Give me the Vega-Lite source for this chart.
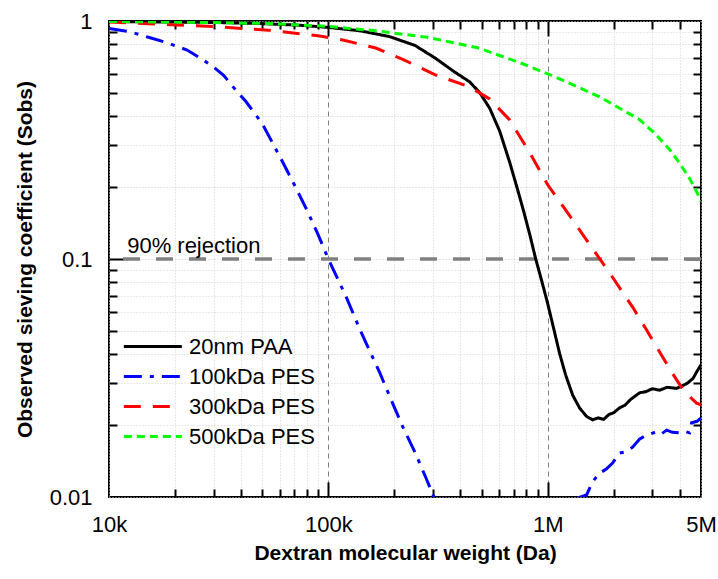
{
  "$schema": "https://vega.github.io/schema/vega-lite/v6.json",
  "width": 592,
  "height": 476,
  "autosize": "none",
  "padding": {"left": 109, "top": 21, "right": 17, "bottom": 82},
  "config": {
    "font": "Liberation Sans",
    "view": {"stroke": "black", "strokeWidth": 2},
    "axis": {"ticks": true, "tickColor": "black", "tickOpacity": 1, "tickWidth": 2}
  },
  "resolve": {"axis": {"x": "independent", "y": "independent"}},
  "layer": [
    {
      "data": {"values": [{"y": 0.1}]},
      "mark": {"type": "rule", "color": "#808080", "strokeWidth": 3.5, "strokeDash": [17, 16]},
      "encoding": {"y": {"field": "y", "type": "quantitative", "scale": {"type": "log", "domain": [0.01, 1]}, "axis": null}}
    },
    {
      "data": {"values": [
        {"s": "20nm PAA", "seg": "a", "x": 10000, "y": 0.995},
        {"s": "20nm PAA", "seg": "a", "x": 20000, "y": 0.99},
        {"s": "20nm PAA", "seg": "a", "x": 32000, "y": 0.985},
        {"s": "20nm PAA", "seg": "a", "x": 50000, "y": 0.975},
        {"s": "20nm PAA", "seg": "a", "x": 74000, "y": 0.96},
        {"s": "20nm PAA", "seg": "a", "x": 100000, "y": 0.94},
        {"s": "20nm PAA", "seg": "a", "x": 139000, "y": 0.91},
        {"s": "20nm PAA", "seg": "a", "x": 190000, "y": 0.86},
        {"s": "20nm PAA", "seg": "a", "x": 248000, "y": 0.79},
        {"s": "20nm PAA", "seg": "a", "x": 306000, "y": 0.70},
        {"s": "20nm PAA", "seg": "a", "x": 377000, "y": 0.61},
        {"s": "20nm PAA", "seg": "a", "x": 441000, "y": 0.555},
        {"s": "20nm PAA", "seg": "a", "x": 490000, "y": 0.50},
        {"s": "20nm PAA", "seg": "a", "x": 544000, "y": 0.43},
        {"s": "20nm PAA", "seg": "a", "x": 604000, "y": 0.345},
        {"s": "20nm PAA", "seg": "a", "x": 671000, "y": 0.255},
        {"s": "20nm PAA", "seg": "a", "x": 730000, "y": 0.195},
        {"s": "20nm PAA", "seg": "a", "x": 778000, "y": 0.158},
        {"s": "20nm PAA", "seg": "a", "x": 828000, "y": 0.127},
        {"s": "20nm PAA", "seg": "a", "x": 882000, "y": 0.10},
        {"s": "20nm PAA", "seg": "a", "x": 939000, "y": 0.081},
        {"s": "20nm PAA", "seg": "a", "x": 1000000, "y": 0.065},
        {"s": "20nm PAA", "seg": "a", "x": 1065000, "y": 0.051},
        {"s": "20nm PAA", "seg": "a", "x": 1134000, "y": 0.040},
        {"s": "20nm PAA", "seg": "a", "x": 1208000, "y": 0.0325},
        {"s": "20nm PAA", "seg": "a", "x": 1300000, "y": 0.0268},
        {"s": "20nm PAA", "seg": "a", "x": 1400000, "y": 0.0236},
        {"s": "20nm PAA", "seg": "a", "x": 1505000, "y": 0.0218},
        {"s": "20nm PAA", "seg": "a", "x": 1603000, "y": 0.0211},
        {"s": "20nm PAA", "seg": "a", "x": 1700000, "y": 0.0215},
        {"s": "20nm PAA", "seg": "a", "x": 1800000, "y": 0.0212},
        {"s": "20nm PAA", "seg": "a", "x": 1900000, "y": 0.0222},
        {"s": "20nm PAA", "seg": "a", "x": 2000000, "y": 0.0226},
        {"s": "20nm PAA", "seg": "a", "x": 2128000, "y": 0.0237},
        {"s": "20nm PAA", "seg": "a", "x": 2250000, "y": 0.0243},
        {"s": "20nm PAA", "seg": "a", "x": 2400000, "y": 0.0258},
        {"s": "20nm PAA", "seg": "a", "x": 2625000, "y": 0.0274},
        {"s": "20nm PAA", "seg": "a", "x": 2800000, "y": 0.0277},
        {"s": "20nm PAA", "seg": "a", "x": 3000000, "y": 0.0285},
        {"s": "20nm PAA", "seg": "a", "x": 3238000, "y": 0.0281},
        {"s": "20nm PAA", "seg": "a", "x": 3500000, "y": 0.0289},
        {"s": "20nm PAA", "seg": "a", "x": 3870000, "y": 0.0286},
        {"s": "20nm PAA", "seg": "a", "x": 4100000, "y": 0.0293},
        {"s": "20nm PAA", "seg": "a", "x": 4342000, "y": 0.0301},
        {"s": "20nm PAA", "seg": "a", "x": 4600000, "y": 0.0315},
        {"s": "20nm PAA", "seg": "a", "x": 4773000, "y": 0.0335},
        {"s": "20nm PAA", "seg": "a", "x": 5000000, "y": 0.0359},

        {"s": "100kDa PES", "seg": "a", "x": 10000, "y": 0.93},
        {"s": "100kDa PES", "seg": "a", "x": 12500, "y": 0.9},
        {"s": "100kDa PES", "seg": "a", "x": 15400, "y": 0.85},
        {"s": "100kDa PES", "seg": "a", "x": 18400, "y": 0.81},
        {"s": "100kDa PES", "seg": "a", "x": 22700, "y": 0.755},
        {"s": "100kDa PES", "seg": "a", "x": 26000, "y": 0.70},
        {"s": "100kDa PES", "seg": "a", "x": 30000, "y": 0.64},
        {"s": "100kDa PES", "seg": "a", "x": 33400, "y": 0.59},
        {"s": "100kDa PES", "seg": "a", "x": 36700, "y": 0.53},
        {"s": "100kDa PES", "seg": "a", "x": 42000, "y": 0.46},
        {"s": "100kDa PES", "seg": "a", "x": 50000, "y": 0.37},
        {"s": "100kDa PES", "seg": "a", "x": 60000, "y": 0.27},
        {"s": "100kDa PES", "seg": "a", "x": 70000, "y": 0.205},
        {"s": "100kDa PES", "seg": "a", "x": 80000, "y": 0.16},
        {"s": "100kDa PES", "seg": "a", "x": 90000, "y": 0.126},
        {"s": "100kDa PES", "seg": "a", "x": 100000, "y": 0.1},
        {"s": "100kDa PES", "seg": "a", "x": 120000, "y": 0.07},
        {"s": "100kDa PES", "seg": "a", "x": 140000, "y": 0.05},
        {"s": "100kDa PES", "seg": "a", "x": 171700, "y": 0.0332},
        {"s": "100kDa PES", "seg": "a", "x": 200000, "y": 0.0238},
        {"s": "100kDa PES", "seg": "a", "x": 218500, "y": 0.0197},
        {"s": "100kDa PES", "seg": "a", "x": 250000, "y": 0.0152},
        {"s": "100kDa PES", "seg": "a", "x": 280000, "y": 0.0119},
        {"s": "100kDa PES", "seg": "a", "x": 310000, "y": 0.0095},
        {"s": "100kDa PES", "seg": "b", "x": 1370000, "y": 0.0099},
        {"s": "100kDa PES", "seg": "b", "x": 1505000, "y": 0.0102},
        {"s": "100kDa PES", "seg": "b", "x": 1603000, "y": 0.0116},
        {"s": "100kDa PES", "seg": "b", "x": 1726000, "y": 0.0126},
        {"s": "100kDa PES", "seg": "b", "x": 1850000, "y": 0.0131},
        {"s": "100kDa PES", "seg": "b", "x": 1977000, "y": 0.0139},
        {"s": "100kDa PES", "seg": "b", "x": 2128000, "y": 0.0153},
        {"s": "100kDa PES", "seg": "b", "x": 2280000, "y": 0.0155},
        {"s": "100kDa PES", "seg": "b", "x": 2439000, "y": 0.0162},
        {"s": "100kDa PES", "seg": "b", "x": 2620000, "y": 0.0175},
        {"s": "100kDa PES", "seg": "b", "x": 2825000, "y": 0.0182},
        {"s": "100kDa PES", "seg": "b", "x": 3138000, "y": 0.0188},
        {"s": "100kDa PES", "seg": "b", "x": 3300000, "y": 0.0184},
        {"s": "100kDa PES", "seg": "b", "x": 3486000, "y": 0.0191},
        {"s": "100kDa PES", "seg": "b", "x": 3700000, "y": 0.0187},
        {"s": "100kDa PES", "seg": "b", "x": 3993000, "y": 0.0186},
        {"s": "100kDa PES", "seg": "b", "x": 4200000, "y": 0.0189},
        {"s": "100kDa PES", "seg": "b", "x": 4436000, "y": 0.0186},
        {"s": "100kDa PES", "seg": "b", "x": 4530000, "y": 0.0205},
        {"s": "100kDa PES", "seg": "b", "x": 4800000, "y": 0.0208},
        {"s": "100kDa PES", "seg": "b", "x": 5000000, "y": 0.0215},

        {"s": "300kDa PES", "seg": "a", "x": 10000, "y": 0.99},
        {"s": "300kDa PES", "seg": "a", "x": 19160, "y": 0.965},
        {"s": "300kDa PES", "seg": "a", "x": 31380, "y": 0.945},
        {"s": "300kDa PES", "seg": "a", "x": 53570, "y": 0.915},
        {"s": "300kDa PES", "seg": "a", "x": 91490, "y": 0.865},
        {"s": "300kDa PES", "seg": "a", "x": 117700, "y": 0.83},
        {"s": "300kDa PES", "seg": "a", "x": 164600, "y": 0.77},
        {"s": "300kDa PES", "seg": "a", "x": 218500, "y": 0.69},
        {"s": "300kDa PES", "seg": "a", "x": 305600, "y": 0.595},
        {"s": "300kDa PES", "seg": "a", "x": 441200, "y": 0.528},
        {"s": "300kDa PES", "seg": "a", "x": 544100, "y": 0.47},
        {"s": "300kDa PES", "seg": "a", "x": 671200, "y": 0.384},
        {"s": "300kDa PES", "seg": "a", "x": 827900, "y": 0.28},
        {"s": "300kDa PES", "seg": "a", "x": 1000000, "y": 0.205},
        {"s": "300kDa PES", "seg": "a", "x": 1259000, "y": 0.152},
        {"s": "300kDa PES", "seg": "a", "x": 1505000, "y": 0.12},
        {"s": "300kDa PES", "seg": "a", "x": 1917000, "y": 0.0873},
        {"s": "300kDa PES", "seg": "a", "x": 2439000, "y": 0.0628},
        {"s": "300kDa PES", "seg": "a", "x": 2825000, "y": 0.0503},
        {"s": "300kDa PES", "seg": "a", "x": 3238000, "y": 0.0407},
        {"s": "300kDa PES", "seg": "a", "x": 3672000, "y": 0.0335},
        {"s": "300kDa PES", "seg": "a", "x": 4209000, "y": 0.0276},
        {"s": "300kDa PES", "seg": "a", "x": 4773000, "y": 0.0248},
        {"s": "300kDa PES", "seg": "a", "x": 5000000, "y": 0.0244},

        {"s": "500kDa PES", "seg": "a", "x": 10000, "y": 0.995},
        {"s": "500kDa PES", "seg": "a", "x": 20000, "y": 0.99},
        {"s": "500kDa PES", "seg": "a", "x": 30000, "y": 0.985},
        {"s": "500kDa PES", "seg": "a", "x": 50000, "y": 0.977},
        {"s": "500kDa PES", "seg": "a", "x": 70000, "y": 0.965},
        {"s": "500kDa PES", "seg": "a", "x": 100000, "y": 0.95},
        {"s": "500kDa PES", "seg": "a", "x": 164000, "y": 0.91},
        {"s": "500kDa PES", "seg": "a", "x": 281000, "y": 0.855},
        {"s": "500kDa PES", "seg": "a", "x": 480000, "y": 0.772},
        {"s": "500kDa PES", "seg": "a", "x": 753000, "y": 0.666},
        {"s": "500kDa PES", "seg": "a", "x": 1000000, "y": 0.60},
        {"s": "500kDa PES", "seg": "a", "x": 1200000, "y": 0.558},
        {"s": "500kDa PES", "seg": "a", "x": 1726000, "y": 0.48},
        {"s": "500kDa PES", "seg": "a", "x": 2625000, "y": 0.385},
        {"s": "500kDa PES", "seg": "a", "x": 3100000, "y": 0.335},
        {"s": "500kDa PES", "seg": "a", "x": 3600000, "y": 0.288},
        {"s": "500kDa PES", "seg": "a", "x": 4000000, "y": 0.252},
        {"s": "500kDa PES", "seg": "a", "x": 4436000, "y": 0.218},
        {"s": "500kDa PES", "seg": "a", "x": 4800000, "y": 0.19},
        {"s": "500kDa PES", "seg": "a", "x": 5000000, "y": 0.175}
      ]},
      "mark": {"type": "line", "strokeWidth": 3, "clip": true},
      "encoding": {
        "x": {
          "field": "x", "type": "quantitative",
          "scale": {"type": "log", "domain": [10000, 5000000]},
          "axis": {
            "orient": "bottom",
            "values": [10000,20000,30000,40000,50000,60000,70000,80000,90000,100000,200000,300000,400000,500000,600000,700000,800000,900000,1000000,2000000,3000000,4000000,5000000],
            "labelExpr": "datum.value==10000?'10k':datum.value==100000?'100k':datum.value==1000000?'1M':datum.value==5000000?'5M':''",
            "labelFlush": false, "labelOverlap": false,
            "labelFontSize": 22, "labelColor": "black", "labelPadding": 17,
            "ticks": false, "domain": false,
            "grid": true,
            "gridDash": {"condition": {"test": "datum.value==100000||datum.value==1000000", "value": [5, 4]}, "value": [1, 2]},
            "gridColor": {"condition": {"test": "datum.value==100000||datum.value==1000000", "value": "#808080"}, "value": "#d0d0d0"},
            "gridWidth": 1,
            "title": "Dextran molecular weight (Da)",
            "titleFontSize": 21, "titleFontWeight": "bold", "titleColor": "black",
            "titleY": 56, "titleBaseline": "middle"
          }
        },
        "y": {
          "field": "y", "type": "quantitative",
          "scale": {"type": "log", "domain": [0.01, 1]},
          "axis": {
            "orient": "left",
            "values": [0.01,0.02,0.03,0.04,0.05,0.06,0.07,0.08,0.09,0.1,0.2,0.3,0.4,0.5,0.6,0.7,0.8,0.9,1],
            "labelExpr": "datum.value==1?'1':datum.value==0.1?'0.1':datum.value==0.01?'0.01':''",
            "labelFlush": false, "labelOverlap": false,
            "labelFontSize": 22, "labelColor": "black", "labelPadding": 17,
            "ticks": false, "domain": false,
            "grid": true,
            "gridDash": [1, 2],
            "gridColor": "#d0d0d0",
            "gridWidth": 1,
            "title": "Observed sieving coefficient (Sobs)",
            "titleFontSize": 21, "titleFontWeight": "bold", "titleColor": "black",
            "titleX": -84, "titleY": 238, "titleBaseline": "middle", "titleAlign": "center"
          }
        },
        "color": {
          "field": "s", "type": "nominal",
          "scale": {"domain": ["20nm PAA", "100kDa PES", "300kDa PES", "500kDa PES"], "range": ["#000000", "#0000ff", "#ff0000", "#00ff00"]},
          "legend": {
            "orient": "none", "legendX": 13, "legendY": 314, "title": null,
            "symbolType": "M-1,0H5", "symbolSize": 374, "symbolStrokeWidth": 3, "symbolFillColor": "transparent",
            "labelFontSize": 22, "labelColor": "black", "labelOffset": 44,
            "rowPadding": 7, "padding": 0
          }
        },
        "strokeDash": {
          "field": "s", "type": "nominal",
          "scale": {"domain": ["20nm PAA", "100kDa PES", "300kDa PES", "500kDa PES"], "range": [[1, 0], [18, 8, 4, 8], [17, 12], [8, 5]]},
          "legend": {
            "orient": "none", "legendX": 13, "legendY": 314, "title": null,
            "symbolType": "M-1,0H5", "symbolSize": 374, "symbolStrokeWidth": 3, "symbolFillColor": "transparent",
            "labelFontSize": 22, "labelColor": "black", "labelOffset": 44,
            "rowPadding": 7, "padding": 0
          }
        },
        "detail": {"field": "seg", "type": "nominal"}
      }
    },
    {
      "data": {"values": [{"x": 12100, "y": 0.1, "label": "90% rejection"}]},
      "mark": {"type": "text", "align": "left", "baseline": "alphabetic", "dy": -6, "fontSize": 22, "color": "black"},
      "encoding": {
        "text": {"field": "label"},
        "x": {
          "field": "x", "type": "quantitative",
          "scale": {"type": "log", "domain": [10000, 5000000]},
          "axis": {
            "orient": "top", "offset": -8,
            "values": [20000,30000,40000,50000,60000,70000,80000,90000,200000,300000,400000,500000,600000,700000,800000,900000,2000000,3000000,4000000],
            "labels": false, "grid": false, "title": null, "domain": false, "ticks": true,
            "tickSize": 8, "tickColor": "black", "tickWidth": 2
          }
        },
        "y": {
          "field": "y", "type": "quantitative",
          "scale": {"type": "log", "domain": [0.01, 1]},
          "axis": {
            "orient": "right", "offset": -8,
            "values": [0.02,0.03,0.04,0.05,0.06,0.07,0.08,0.09,0.2,0.3,0.4,0.5,0.6,0.7,0.8,0.9],
            "labels": false, "grid": false, "title": null, "domain": false, "ticks": true,
            "tickSize": 8, "tickColor": "black", "tickWidth": 2
          }
        }
      }
    },
    {
      "data": {"values": [{"x": 100000, "y": 0.1}]},
      "mark": {"type": "point", "opacity": 0},
      "encoding": {
        "x": {
          "field": "x", "type": "quantitative",
          "scale": {"type": "log", "domain": [10000, 5000000]},
          "axis": {
            "orient": "bottom", "offset": -8,
            "values": [20000,30000,40000,50000,60000,70000,80000,90000,200000,300000,400000,500000,600000,700000,800000,900000,2000000,3000000,4000000],
            "labels": false, "grid": false, "title": null, "domain": false, "ticks": true,
            "tickSize": 8, "tickColor": "black", "tickWidth": 2
          }
        },
        "y": {
          "field": "y", "type": "quantitative",
          "scale": {"type": "log", "domain": [0.01, 1]},
          "axis": {
            "orient": "left", "offset": -8,
            "values": [0.02,0.03,0.04,0.05,0.06,0.07,0.08,0.09,0.2,0.3,0.4,0.5,0.6,0.7,0.8,0.9],
            "labels": false, "grid": false, "title": null, "domain": false, "ticks": true,
            "tickSize": 8, "tickColor": "black", "tickWidth": 2
          }
        }
      }
    },
    {
      "data": {"values": [{"x": 100000, "y": 0.1}]},
      "mark": {"type": "point", "opacity": 0},
      "encoding": {
        "x": {
          "field": "x", "type": "quantitative",
          "scale": {"type": "log", "domain": [10000, 5000000]},
          "axis": {"orient": "bottom", "offset": -15, "values": [100000, 1000000], "labels": false, "grid": false, "title": null, "domain": false, "ticks": true, "tickSize": 15, "tickColor": "black", "tickWidth": 2}
        },
        "y": {
          "field": "y", "type": "quantitative",
          "scale": {"type": "log", "domain": [0.01, 1]},
          "axis": {"orient": "left", "offset": -15, "values": [0.1], "labels": false, "grid": false, "title": null, "domain": false, "ticks": true, "tickSize": 15, "tickColor": "black", "tickWidth": 2}
        }
      }
    },
    {
      "data": {"values": [{"x": 100000, "y": 0.1}]},
      "mark": {"type": "point", "opacity": 0},
      "encoding": {
        "x": {
          "field": "x", "type": "quantitative",
          "scale": {"type": "log", "domain": [10000, 5000000]},
          "axis": {"orient": "top", "offset": -15, "values": [100000, 1000000], "labels": false, "grid": false, "title": null, "domain": false, "ticks": true, "tickSize": 15, "tickColor": "black", "tickWidth": 2}
        },
        "y": {
          "field": "y", "type": "quantitative",
          "scale": {"type": "log", "domain": [0.01, 1]},
          "axis": {"orient": "right", "offset": -15, "values": [0.1], "labels": false, "grid": false, "title": null, "domain": false, "ticks": true, "tickSize": 15, "tickColor": "black", "tickWidth": 2}
        }
      }
    }
  ]
}
